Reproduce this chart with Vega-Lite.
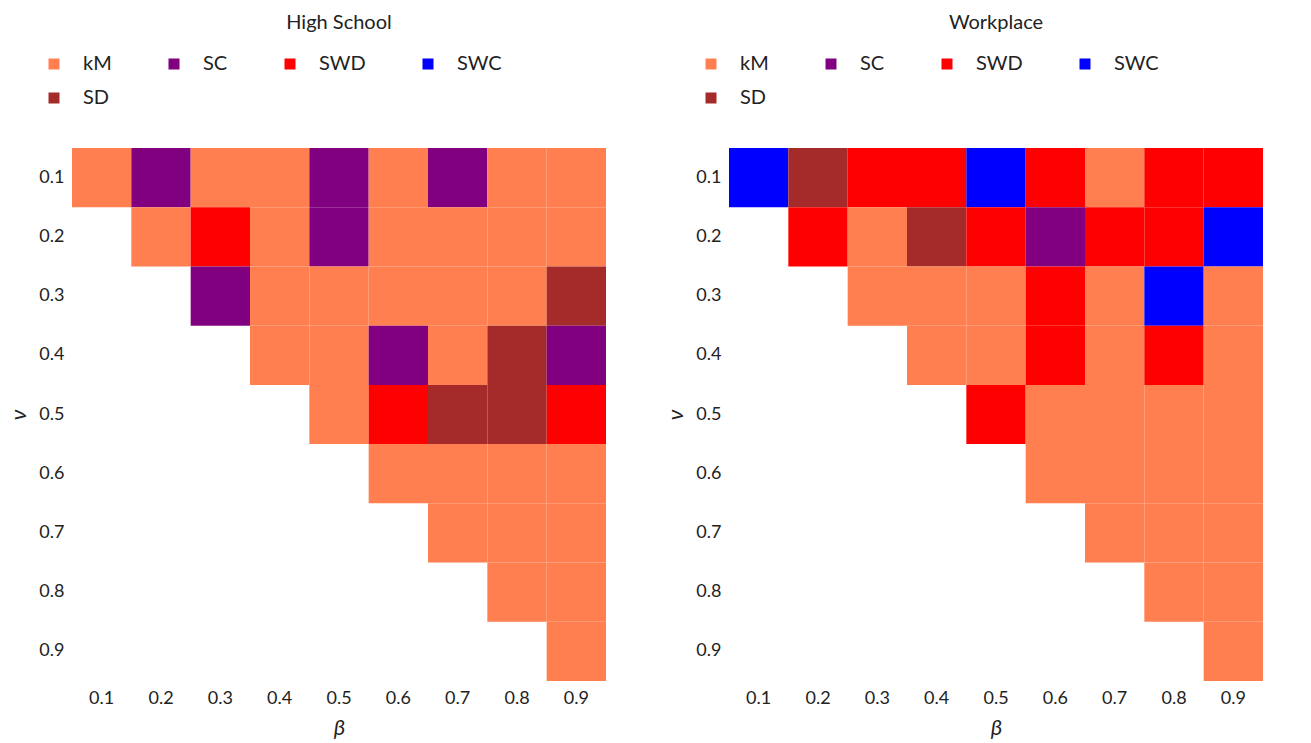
{
  "$schema": "https://vega.github.io/schema/vega-lite/v6.json",
  "padding": {"left": 7, "top": 13, "right": 10, "bottom": 5},
  "background": "white",
  "datasets": {
    "hs": [
      {"beta": 0.1, "nu": 0.1, "cls": "kM"}, {"beta": 0.2, "nu": 0.1, "cls": "SC"}, {"beta": 0.3, "nu": 0.1, "cls": "kM"}, {"beta": 0.4, "nu": 0.1, "cls": "kM"}, {"beta": 0.5, "nu": 0.1, "cls": "SC"}, {"beta": 0.6, "nu": 0.1, "cls": "kM"}, {"beta": 0.7, "nu": 0.1, "cls": "SC"}, {"beta": 0.8, "nu": 0.1, "cls": "kM"}, {"beta": 0.9, "nu": 0.1, "cls": "kM"},
      {"beta": 0.2, "nu": 0.2, "cls": "kM"}, {"beta": 0.3, "nu": 0.2, "cls": "SWD"}, {"beta": 0.4, "nu": 0.2, "cls": "kM"}, {"beta": 0.5, "nu": 0.2, "cls": "SC"}, {"beta": 0.6, "nu": 0.2, "cls": "kM"}, {"beta": 0.7, "nu": 0.2, "cls": "kM"}, {"beta": 0.8, "nu": 0.2, "cls": "kM"}, {"beta": 0.9, "nu": 0.2, "cls": "kM"},
      {"beta": 0.3, "nu": 0.3, "cls": "SC"}, {"beta": 0.4, "nu": 0.3, "cls": "kM"}, {"beta": 0.5, "nu": 0.3, "cls": "kM"}, {"beta": 0.6, "nu": 0.3, "cls": "kM"}, {"beta": 0.7, "nu": 0.3, "cls": "kM"}, {"beta": 0.8, "nu": 0.3, "cls": "kM"}, {"beta": 0.9, "nu": 0.3, "cls": "SD"},
      {"beta": 0.4, "nu": 0.4, "cls": "kM"}, {"beta": 0.5, "nu": 0.4, "cls": "kM"}, {"beta": 0.6, "nu": 0.4, "cls": "SC"}, {"beta": 0.7, "nu": 0.4, "cls": "kM"}, {"beta": 0.8, "nu": 0.4, "cls": "SD"}, {"beta": 0.9, "nu": 0.4, "cls": "SC"},
      {"beta": 0.5, "nu": 0.5, "cls": "kM"}, {"beta": 0.6, "nu": 0.5, "cls": "SWD"}, {"beta": 0.7, "nu": 0.5, "cls": "SD"}, {"beta": 0.8, "nu": 0.5, "cls": "SD"}, {"beta": 0.9, "nu": 0.5, "cls": "SWD"},
      {"beta": 0.6, "nu": 0.6, "cls": "kM"}, {"beta": 0.7, "nu": 0.6, "cls": "kM"}, {"beta": 0.8, "nu": 0.6, "cls": "kM"}, {"beta": 0.9, "nu": 0.6, "cls": "kM"},
      {"beta": 0.7, "nu": 0.7, "cls": "kM"}, {"beta": 0.8, "nu": 0.7, "cls": "kM"}, {"beta": 0.9, "nu": 0.7, "cls": "kM"},
      {"beta": 0.8, "nu": 0.8, "cls": "kM"}, {"beta": 0.9, "nu": 0.8, "cls": "kM"},
      {"beta": 0.9, "nu": 0.9, "cls": "kM"}
    ],
    "wp": [
      {"beta": 0.1, "nu": 0.1, "cls": "SWC"}, {"beta": 0.2, "nu": 0.1, "cls": "SD"}, {"beta": 0.3, "nu": 0.1, "cls": "SWD"}, {"beta": 0.4, "nu": 0.1, "cls": "SWD"}, {"beta": 0.5, "nu": 0.1, "cls": "SWC"}, {"beta": 0.6, "nu": 0.1, "cls": "SWD"}, {"beta": 0.7, "nu": 0.1, "cls": "kM"}, {"beta": 0.8, "nu": 0.1, "cls": "SWD"}, {"beta": 0.9, "nu": 0.1, "cls": "SWD"},
      {"beta": 0.2, "nu": 0.2, "cls": "SWD"}, {"beta": 0.3, "nu": 0.2, "cls": "kM"}, {"beta": 0.4, "nu": 0.2, "cls": "SD"}, {"beta": 0.5, "nu": 0.2, "cls": "SWD"}, {"beta": 0.6, "nu": 0.2, "cls": "SC"}, {"beta": 0.7, "nu": 0.2, "cls": "SWD"}, {"beta": 0.8, "nu": 0.2, "cls": "SWD"}, {"beta": 0.9, "nu": 0.2, "cls": "SWC"},
      {"beta": 0.3, "nu": 0.3, "cls": "kM"}, {"beta": 0.4, "nu": 0.3, "cls": "kM"}, {"beta": 0.5, "nu": 0.3, "cls": "kM"}, {"beta": 0.6, "nu": 0.3, "cls": "SWD"}, {"beta": 0.7, "nu": 0.3, "cls": "kM"}, {"beta": 0.8, "nu": 0.3, "cls": "SWC"}, {"beta": 0.9, "nu": 0.3, "cls": "kM"},
      {"beta": 0.4, "nu": 0.4, "cls": "kM"}, {"beta": 0.5, "nu": 0.4, "cls": "kM"}, {"beta": 0.6, "nu": 0.4, "cls": "SWD"}, {"beta": 0.7, "nu": 0.4, "cls": "kM"}, {"beta": 0.8, "nu": 0.4, "cls": "SWD"}, {"beta": 0.9, "nu": 0.4, "cls": "kM"},
      {"beta": 0.5, "nu": 0.5, "cls": "SWD"}, {"beta": 0.6, "nu": 0.5, "cls": "kM"}, {"beta": 0.7, "nu": 0.5, "cls": "kM"}, {"beta": 0.8, "nu": 0.5, "cls": "kM"}, {"beta": 0.9, "nu": 0.5, "cls": "kM"},
      {"beta": 0.6, "nu": 0.6, "cls": "kM"}, {"beta": 0.7, "nu": 0.6, "cls": "kM"}, {"beta": 0.8, "nu": 0.6, "cls": "kM"}, {"beta": 0.9, "nu": 0.6, "cls": "kM"},
      {"beta": 0.7, "nu": 0.7, "cls": "kM"}, {"beta": 0.8, "nu": 0.7, "cls": "kM"}, {"beta": 0.9, "nu": 0.7, "cls": "kM"},
      {"beta": 0.8, "nu": 0.8, "cls": "kM"}, {"beta": 0.9, "nu": 0.8, "cls": "kM"},
      {"beta": 0.9, "nu": 0.9, "cls": "kM"}
    ]
  },
  "hconcat": [
    {
      "data": {"name": "hs"},
      "title": {"text": "High School"},
      "width": 534,
      "height": 533,
      "mark": {"type": "rect"},
      "encoding": {
        "x": {"field": "beta", "type": "ordinal", "title": "β", "scale": {"domain": [0.1, 0.2, 0.3, 0.4, 0.5, 0.6, 0.7, 0.8, 0.9], "paddingInner": 0, "paddingOuter": 0}, "axis": {"labelAngle": 0}},
        "y": {"field": "nu", "type": "ordinal", "title": "ν", "scale": {"domain": [0.1, 0.2, 0.3, 0.4, 0.5, 0.6, 0.7, 0.8, 0.9], "paddingInner": 0, "paddingOuter": 0}},
        "color": {"field": "cls", "type": "nominal", "scale": {"domain": ["kM", "SC", "SWD", "SWC", "SD"], "range": ["#FF7F50", "#800080", "#FF0000", "#0000FF", "#A52A2A"]}, "legend": {"title": null, "orient": "none", "direction": "horizontal", "legendX": -28, "legendY": -94, "columns": 4}}
      }
    },
    {
      "data": {"name": "wp"},
      "title": {"text": "Workplace"},
      "width": 534,
      "height": 533,
      "mark": {"type": "rect"},
      "encoding": {
        "x": {"field": "beta", "type": "ordinal", "title": "β", "scale": {"domain": [0.1, 0.2, 0.3, 0.4, 0.5, 0.6, 0.7, 0.8, 0.9], "paddingInner": 0, "paddingOuter": 0}, "axis": {"labelAngle": 0}},
        "y": {"field": "nu", "type": "ordinal", "title": "ν", "scale": {"domain": [0.1, 0.2, 0.3, 0.4, 0.5, 0.6, 0.7, 0.8, 0.9], "paddingInner": 0, "paddingOuter": 0}},
        "color": {"field": "cls", "type": "nominal", "scale": {"domain": ["kM", "SC", "SWD", "SWC", "SD"], "range": ["#FF7F50", "#800080", "#FF0000", "#0000FF", "#A52A2A"]}, "legend": {"title": null, "orient": "none", "direction": "horizontal", "legendX": -28, "legendY": -94, "columns": 4}}
      }
    }
  ],
  "spacing": 58,
  "resolve": {"scale": {"color": "independent", "x": "independent", "y": "independent"}, "legend": {"color": "independent"}},
  "config": {
    "font": "Lato",
    "view": {"stroke": null},
    "axis": {"domain": false, "ticks": false, "grid": false, "labelFontSize": 18, "labelColor": "#222222", "labelPadding": 8, "titleFontSize": 22, "titleFontStyle": "italic", "titleFontWeight": "normal", "titleColor": "#222222"},
    "axisY": {"titlePadding": 8},
    "axisX": {"titlePadding": 10},
    "title": {"fontSize": 20, "fontWeight": "normal", "color": "#222222", "anchor": "middle", "frame": "group", "offset": 21},
    "legend": {"symbolType": "square", "symbolSize": 121, "symbolStrokeWidth": 0, "labelFontSize": 20, "labelColor": "#222222", "labelOffset": 19, "columnPadding": 52, "rowPadding": 14, "symbolOpacity": 1}
  }
}
